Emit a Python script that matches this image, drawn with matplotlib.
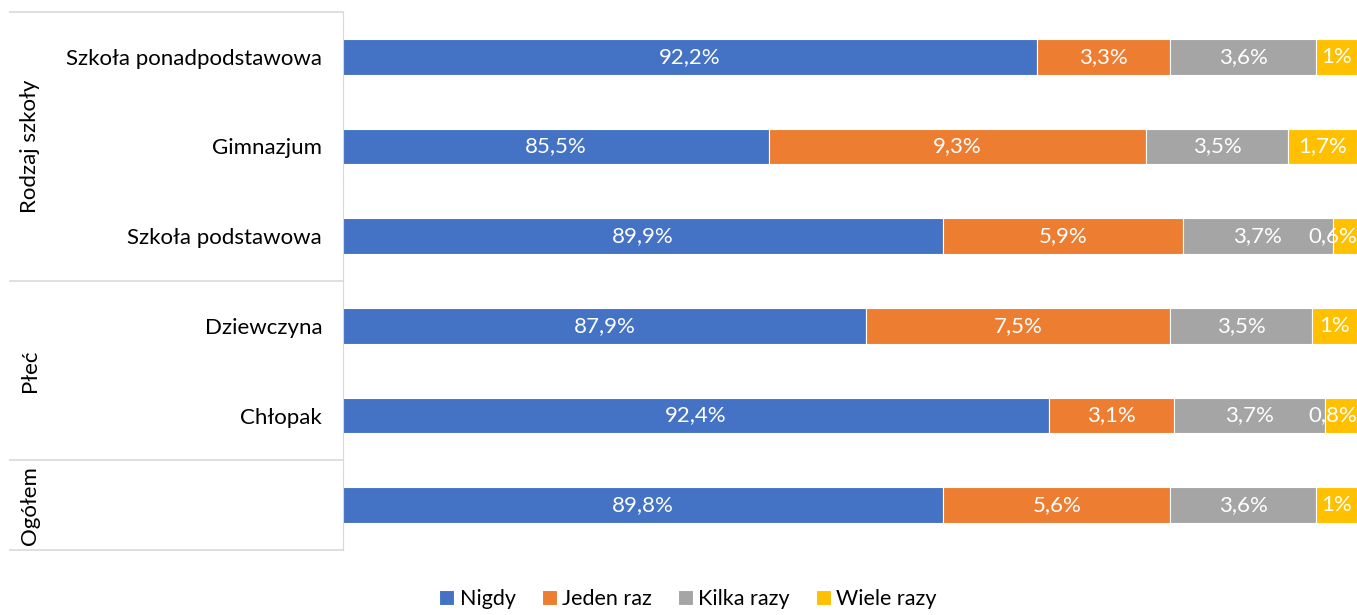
import matplotlib.pyplot as plt
from matplotlib.lines import Line2D

plt.rcParams['font.family'] = ['Lato', 'DejaVu Sans']

# categories from top to bottom
categories = ['Szkoła ponadpodstawowa', 'Gimnazjum', 'Szkoła podstawowa',
              'Dziewczyna', 'Chłopak', '']
nigdy = [92.1, 85.5, 89.8, 87.9, 92.4, 89.8]
jeden_raz = [3.3, 9.3, 5.9, 7.5, 3.1, 5.6]
kilka_razy = [3.6, 3.5, 3.7, 3.5, 3.7, 3.6]
wiele_razy = [1.0, 1.7, 0.6, 1.1, 0.8, 1.0]
labels = [
    ['92,2%', '85,5%', '89,9%', '87,9%', '92,4%', '89,8%'],
    ['3,3%', '9,3%', '5,9%', '7,5%', '3,1%', '5,6%'],
    ['3,6%', '3,5%', '3,7%', '3,5%', '3,7%', '3,6%'],
    ['1%', '1,7%', '0,6%', '1%', '0,8%', '1%'],
]
series_names = ['Nigdy', 'Jeden raz', 'Kilka razy', 'Wiele razy']
colors = ['#4472C4', '#ED7D31', '#A5A5A5', '#FFC000']

# groups: (name, first index, last index)
groups = [('Rodzaj szkoły', 0, 2), ('Płeć', 3, 4), ('Ogółem', 5, 5)]

fig = plt.figure(figsize=(13.57, 6.15), dpi=100)
ax = fig.add_axes([343 / 1357, 1 - 550 / 615, 1 - 343 / 1357, (550 - 12) / 615])

y = list(range(len(categories)))
series = [nigdy, jeden_raz, kilka_razy, wiele_razy]
left = [0.0] * len(categories)
for vals, col, name, labs in zip(series, colors, series_names, labels):
    bars = ax.barh(y, vals, left=left, height=0.4, color=col, label=name,
                   edgecolor='white', linewidth=0.8)
    for b, lab in zip(bars, labs):
        x0 = max(b.get_x(), 75)
        x1 = b.get_x() + b.get_width()
        yc = b.get_y() + b.get_height() / 2
        if b.get_width() < 0.95 and x1 > 99.5:
            # small last segment: keep the label inside the chart
            ax.text(100, yc, lab, ha='right', va='center', color='white', fontsize=16)
        else:
            ax.text((x0 + x1) / 2, yc, lab, ha='center', va='center',
                    color='white', fontsize=16)
    left = [l + v for l, v in zip(left, vals)]

ax.set_xlim(75, 100)
ax.set_ylim(len(categories) - 0.5, -0.5)
ax.set_yticks(y)
ax.set_yticklabels(categories, fontsize=16, color='black')
ax.tick_params(axis='y', length=0, pad=15)
ax.set_xticks([])
for s in ['top', 'right', 'bottom']:
    ax.spines[s].set_visible(False)
ax.spines['left'].set_color('#D9D9D9')

# group separators and labels on the left
line_col = '#D9D9D9'
x_left = 10 / 1357
x_axis = 343 / 1357
def fig_y(v):
    # data y -> figure fraction
    return fig.transFigure.inverted().transform(ax.transData.transform((75, v)))[1]

bounds = [-0.5, 2.5, 4.5, 5.5]
for b in bounds:
    yy = fig_y(b)
    fig.add_artist(Line2D([x_left, x_axis], [yy, yy], color=line_col, lw=1.2))
for name, i0, i1 in groups:
    yc = fig_y((i0 + i1) / 2)
    fig.text(30 / 1357, yc, name, rotation=90, ha='center', va='center',
             fontsize=16, color='black')

fig.legend(loc='lower center', ncol=4, frameon=False, fontsize=15.5,
           bbox_to_anchor=(0.507, -0.022), handlelength=0.7, handleheight=0.7,
           handletextpad=0.25, columnspacing=1.2)

fig.savefig('out.png', dpi=100)
